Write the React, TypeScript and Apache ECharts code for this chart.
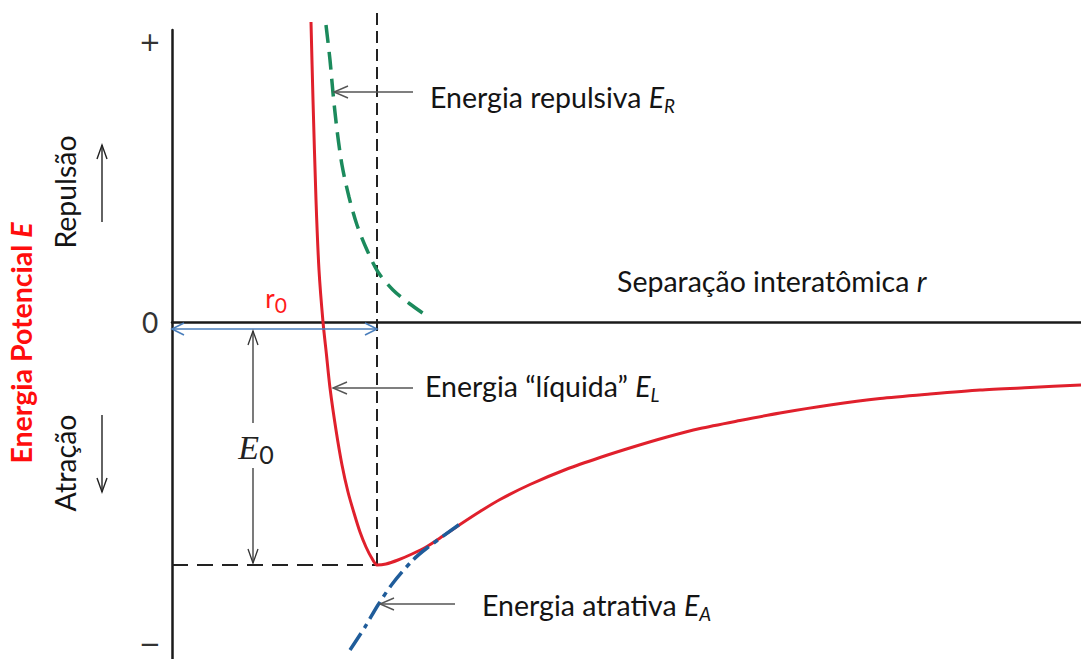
import { useEffect, useRef } from "react";
import * as echarts from "echarts";

// Interatomic separation r (x) and potential energy E (y), arbitrary units.
const netEnergy: [number, number][] = [
  [1.39, 3.0], [1.41, 2.22], [1.44, 1.22], [1.47, 0.52], [1.51, 0.0],
  [1.545, -0.33], [1.58, -0.66], [1.64, -1.08], [1.7, -1.43], [1.76, -1.7],
  [1.82, -1.91], [1.88, -2.1], [1.94, -2.25], [2.0, -2.365], [2.05, -2.43],
  [2.14, -2.42], [2.26, -2.38], [2.4, -2.32], [2.55, -2.245], [2.71, -2.14],
  [2.88, -2.025], [3.08, -1.895], [3.28, -1.775], [3.58, -1.625], [3.95, -1.47],
  [4.28, -1.355], [4.61, -1.25], [4.95, -1.15], [5.28, -1.065], [5.68, -0.985],
  [6.08, -0.91], [6.58, -0.83], [7.08, -0.765], [7.58, -0.72], [8.08, -0.68],
  [8.58, -0.655], [9.09, -0.63],
];

const repulsiveEnergy: [number, number][] = [
  [1.54, 2.97], [1.58, 2.62], [1.61, 2.29], [1.65, 1.92], [1.7, 1.57],
  [1.77, 1.25], [1.85, 0.97], [1.95, 0.72], [2.06, 0.5], [2.21, 0.32],
  [2.38, 0.18], [2.55, 0.06],
];

const attractiveEnergy: [number, number][] = [
  [1.78, -3.28], [1.93, -3.05], [2.06, -2.83], [2.21, -2.61], [2.41, -2.38],
  [2.55, -2.26], [2.88, -2.02],
];

// Equilibrium separation and bonding energy
const r0 = 2.05;
const E0 = -2.43;

// Energy axis marks
const tickValues = [2.8, 0, -3.22];
const tickLabels = ["+", "0", "−"];

const FONT = "Lato, 'Open Sans', sans-serif";
const INK = "#141414";
const ARROW = "#555";
const SIZE = 28.5;

export default function App() {
  const ref = useRef<HTMLDivElement>(null);

  useEffect(() => {
    if (!ref.current) return;
    const chart = echarts.init(ref.current, undefined, { renderer: "svg" });

    chart.setOption({
      animation: false,
      backgroundColor: "#fff",
      grid: { left: 172, right: 0, top: 30, bottom: 0 },
      xAxis: {
        type: "value",
        min: 0,
        max: 9.09,
        axisLine: { onZero: true, lineStyle: { color: "#1a1a1a", width: 2.5 } },
        axisTick: { show: false },
        axisLabel: { show: false },
        splitLine: { show: false },
      },
      yAxis: {
        type: "value",
        min: -3.37,
        max: 2.92,
        axisLine: { show: true, lineStyle: { color: "#1a1a1a", width: 2.5 } },
        axisTick: { show: false },
        axisLabel: { show: false },
        splitLine: { show: false },
      },
      series: [
        {
          type: "line",
          data: [[r0, E0], [r0, 3.12]],
          symbol: "none",
          clip: false,
          lineStyle: { color: "#222", width: 2, type: [12, 6] },
          z: 1,
        },
        {
          type: "line",
          data: [[0, E0], [r0, E0]],
          symbol: "none",
          lineStyle: { color: "#222", width: 2, type: [16, 9] },
          z: 1,
        },
        {
          type: "line",
          data: netEnergy,
          symbol: "none",
          smooth: 0.25,
          clip: false,
          lineStyle: { color: "#e0202c", width: 3 },
          z: 3,
        },
        {
          type: "line",
          data: repulsiveEnergy,
          symbol: "none",
          smooth: 0.3,
          clip: false,
          lineStyle: { color: "#1b8a5c", width: 3.5, type: [18, 9] },
          z: 3,
        },
        {
          type: "line",
          data: attractiveEnergy,
          symbol: "none",
          smooth: 0.3,
          clip: false,
          lineStyle: { color: "#1f5c9a", width: 3.5, type: [20, 6, 5, 6] },
          z: 4,
        },
      ],
    });

    const px = (x: number, y: number) =>
      chart.convertToPixel({ gridIndex: 0 }, [x, y]) as number[];

    const seg = (a: number[], b: number[], color: string, width: number) => ({
      type: "line",
      z: 100,
      shape: { x1: a[0], y1: a[1], x2: b[0], y2: b[1] },
      style: { stroke: color, lineWidth: width },
    });

    // open chevron head at tip; (dx, dy) points back along the shaft
    const head = (tip: number[], dx: number, dy: number, len: number, half: number, color: string, width: number) => {
      const nx = -dy;
      const ny = dx;
      return {
        type: "polyline",
        z: 100,
        shape: {
          points: [
            [tip[0] + dx * len + nx * half, tip[1] + dy * len + ny * half],
            [tip[0], tip[1]],
            [tip[0] + dx * len - nx * half, tip[1] + dy * len - ny * half],
          ],
        },
        style: { stroke: color, lineWidth: width, fill: "none" },
      };
    };

    const label = (p: number[], text: string, extra: any = {}) => ({
      type: "text",
      z: 100,
      x: p[0],
      y: p[1],
      rotation: extra.rotation ?? 0,
      style: {
        text,
        fontSize: SIZE,
        fontFamily: FONT,
        fill: INK,
        align: "left",
        verticalAlign: "middle",
        ...extra.style,
      },
    });

    const subRich = (size: number, color: string) => ({
      i: { fontSize: size, fontFamily: FONT, fontStyle: "italic", fill: color },
      s: { fontSize: size * 0.66, fontFamily: FONT, fontStyle: "italic", fill: color, padding: [17, 0, 0, 0] },
    });

    // annotation pointers
    const pointerER = [px(1.62, 2.3), px(2.41, 2.3)];
    const pointerEL = [px(1.61, -0.66), px(2.41, -0.66)];
    const pointerEA = [px(2.08, -2.82), px(2.83, -2.82)];
    const r0a = px(0, -0.07);
    const r0b = px(r0, -0.07);
    const e0x = 0.81;
    const e0top = px(e0x, -0.09);
    const e0gapA = px(e0x, -1.01);
    const e0gapB = px(e0x, -1.46);
    const e0bot = px(e0x, E0 + 0.02);
    const upA = px(-0.7, 1.0);
    const upB = px(-0.7, 1.77);
    const dnA = px(-0.7, -0.93);
    const dnB = px(-0.7, -1.7);

    const graphic: any[] = [
      ...tickValues.map((v, i) => ({
        type: "text",
        z: 100,
        x: px(0, v)[0] - 22,
        y: px(0, v)[1],
        style: {
          text: tickLabels[i],
          fontSize: i === 1 ? 28 : 26,
          lineHeight: 16,
          fontFamily: i === 1 ? FONT : "'DejaVu Sans', sans-serif",
          fill: "#333",
          align: "center",
          verticalAlign: "middle",
        },
      })),

      seg(pointerER[0], pointerER[1], ARROW, 1.4),
      head(pointerER[0], 1, 0, 14, 6, ARROW, 1.4),
      seg(pointerEL[0], pointerEL[1], ARROW, 1.4),
      head(pointerEL[0], 1, 0, 14, 6, ARROW, 1.4),
      seg(pointerEA[0], pointerEA[1], ARROW, 1.4),
      head(pointerEA[0], 1, 0, 14, 6, ARROW, 1.4),

      seg(r0a, r0b, "#4a7ebb", 1.6),
      head(r0a, 1, 0, 12, 6, "#4a7ebb", 1.6),
      head(r0b, -1, 0, 12, 6, "#4a7ebb", 1.6),

      seg(e0top, e0gapA, "#333", 1.3),
      seg(e0gapB, e0bot, "#333", 1.3),
      head(e0top, 0, 1, 14, 5, "#333", 1.3),
      head(e0bot, 0, -1, 14, 5, "#333", 1.3),

      seg(upA, upB, "#222", 1.4),
      head(upB, 0, 1, 14, 5, "#222", 1.4),
      seg(dnA, dnB, "#222", 1.4),
      head(dnB, 0, -1, 14, 5, "#222", 1.4),

      label(px(2.58, 2.25), "Energia repulsiva {i|E}{s|R}", { style: { rich: subRich(SIZE, INK) } }),
      label(px(2.53, -0.64), "Energia “líquida” {i|E}{s|L}", { style: { rich: subRich(SIZE, INK) } }),
      label(px(3.1, -2.83), "Energia atrativa {i|E}{s|A}", { style: { rich: subRich(SIZE, INK) } }),
      label(px(4.45, 0.41), "Separação interatômica {i|r}", { style: { rich: subRich(SIZE, INK) } }),

      label(px(1.04, 0.24), "r{s|0}", {
        style: {
          align: "center",
          fill: "#ff1a1a",
          fontSize: 26,
          rich: { s: { fontSize: 21, fontFamily: FONT, fill: "#ff1a1a", padding: [13, 0, 0, 0] } },
        },
      }),
      label(px(0.84, -1.25), "{e|E}{s|0}", {
        style: {
          align: "center",
          rich: {
            e: { fontSize: 34, fontFamily: "'Liberation Serif', 'DejaVu Serif', serif", fontStyle: "italic", fill: "#222" },
            s: { fontSize: 25, fontFamily: FONT, fill: "#222", padding: [14, 0, 0, 0] },
          },
        },
      }),

      label(px(-1.07, 1.3), "Repulsão", { rotation: Math.PI / 2, style: { align: "center" } }),
      label(px(-1.07, -1.41), "Atração", { rotation: Math.PI / 2, style: { align: "center" } }),
      label(px(-1.51, -0.21), "Energia Potencial {i|E}", {
        rotation: Math.PI / 2,
        style: {
          align: "center",
          fontWeight: "bold",
          fill: "#ff0d0d",
          rich: {
            i: { fontSize: SIZE, fontFamily: FONT, fontWeight: "bold", fontStyle: "italic", fill: "#ff0d0d" },
          },
        },
      }),
    ];

    chart.setOption({ graphic });

    return () => chart.dispose();
  }, []);

  return (
    <div
      ref={ref}
      style={{ position: "fixed", left: 0, top: 0, width: 1081, height: 659, background: "#fff" }}
    />
  );
}
